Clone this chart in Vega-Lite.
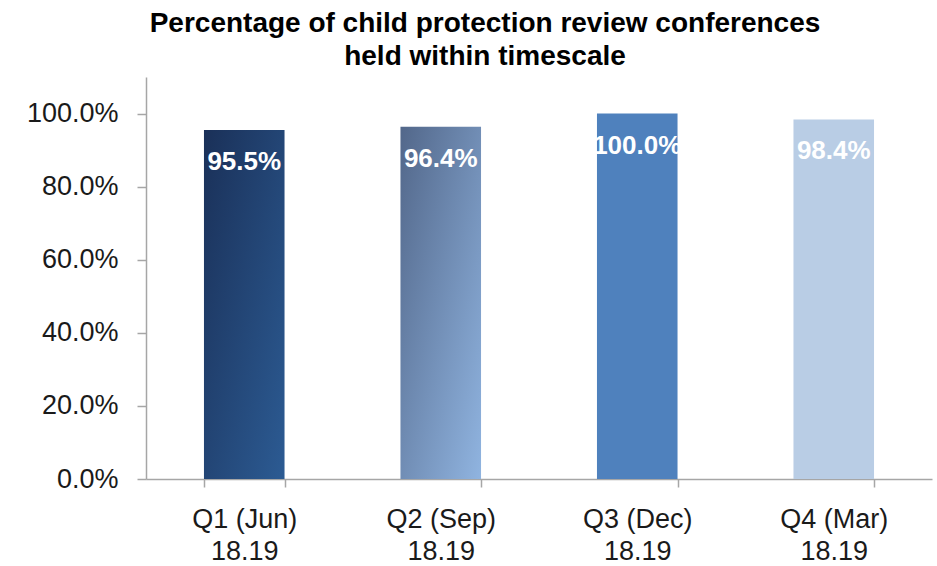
{
  "$schema": "https://vega.github.io/schema/vega-lite/v6.json",
  "width": 786,
  "height": 402,
  "autosize": {"type": "none"},
  "padding": {"left": 146, "top": 77, "right": 5, "bottom": 87},
  "background": "white",
  "title": {
    "text": ["Percentage of child protection review conferences", "held within timescale"],
    "font": "Liberation Sans",
    "fontSize": 28,
    "fontWeight": "bold",
    "color": "#000000",
    "lineHeight": 33,
    "anchor": "middle",
    "dx": -54,
    "offset": 6
  },
  "config": {
    "view": {"stroke": null},
    "axis": {
      "domainColor": "#a6a6a6",
      "domainWidth": 1.5,
      "tickColor": "#a6a6a6",
      "tickWidth": 1.5,
      "grid": false,
      "labelFont": "Liberation Sans",
      "labelFontSize": 27,
      "labelColor": "#1a1a1a",
      "title": null
    }
  },
  "data": {
    "values": [
      {"quarter": "Q1 (Jun)|18.19", "pct": 0.955, "label": "95.5%"},
      {"quarter": "Q2 (Sep)|18.19", "pct": 0.964, "label": "96.4%"},
      {"quarter": "Q3 (Dec)|18.19", "pct": 1.0, "label": "100.0%"},
      {"quarter": "Q4 (Mar)|18.19", "pct": 0.984, "label": "98.4%"}
    ]
  },
  "encoding": {
    "x": {
      "field": "quarter",
      "type": "nominal",
      "sort": null,
      "scale": {"paddingInner": 0.59, "paddingOuter": 0.295},
      "axis": {
        "labelAngle": 0,
        "tickBand": "extent",
        "tickSize": 8,
        "labelPadding": 19,
        "labelLineHeight": 32,
        "labelExpr": "split(datum.label, '|')"
      }
    },
    "y": {
      "field": "pct",
      "type": "quantitative",
      "scale": {"domain": [0, 1.1], "nice": false},
      "axis": {
        "values": [0, 0.2, 0.4, 0.6, 0.8, 1.0],
        "format": ".1%",
        "tickSize": 9,
        "labelPadding": 19
      }
    }
  },
  "layer": [
    {
      "transform": [{"filter": "datum.label == '95.5%'"}],
      "mark": {"type": "bar", "color": {"gradient": "linear", "x1": 0, "y1": 0, "x2": 1, "y2": 1, "stops": [{"offset": 0, "color": "#1a3058"}, {"offset": 1, "color": "#2c5b93"}]}}
    },
    {
      "transform": [{"filter": "datum.label == '96.4%'"}],
      "mark": {"type": "bar", "color": {"gradient": "linear", "x1": 0, "y1": 0, "x2": 1, "y2": 1, "stops": [{"offset": 0, "color": "#52678a"}, {"offset": 1, "color": "#90b4e0"}]}}
    },
    {
      "transform": [{"filter": "datum.label == '100.0%'"}],
      "mark": {"type": "bar", "color": "#4f81bd"}
    },
    {
      "transform": [{"filter": "datum.label == '98.4%'"}],
      "mark": {"type": "bar", "color": "#b9cde5"}
    },
    {
      "mark": {"type": "text", "baseline": "top", "dy": 19, "font": "Liberation Sans", "fontSize": 26, "fontWeight": "bold", "color": "#ffffff"},
      "encoding": {"text": {"field": "label"}}
    }
  ]
}
